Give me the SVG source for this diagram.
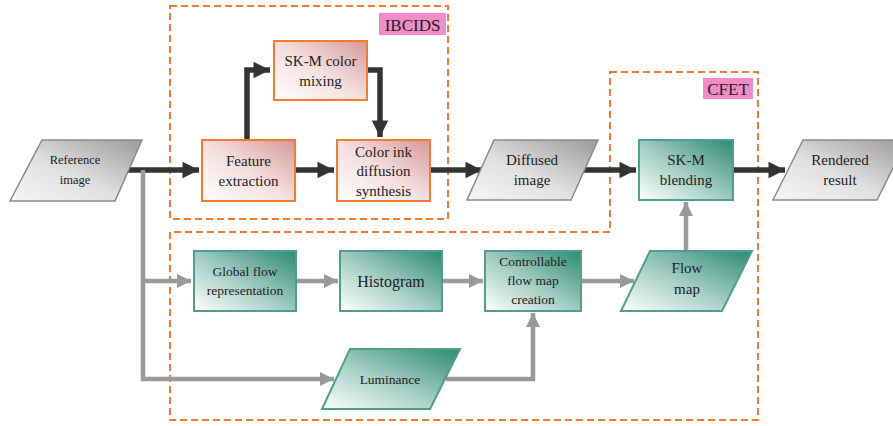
<svg xmlns="http://www.w3.org/2000/svg" width="893" height="426" viewBox="0 0 893 426">
<defs>
<linearGradient id="gOr" x1="1" y1="0" x2="0" y2="1">
<stop offset="0" stop-color="#d69898"/><stop offset="0.5" stop-color="#f3dede"/><stop offset="1" stop-color="#ffffff"/>
</linearGradient>
<linearGradient id="gTe" x1="1" y1="0" x2="0" y2="1">
<stop offset="0" stop-color="#2c8a70"/><stop offset="0.55" stop-color="#a8d0c5"/><stop offset="1" stop-color="#ffffff"/>
</linearGradient>
<linearGradient id="gGr" x1="1" y1="0" x2="0" y2="1">
<stop offset="0" stop-color="#9a9a9a"/><stop offset="0.55" stop-color="#e0e0e0"/><stop offset="1" stop-color="#f6f6f6"/>
</linearGradient>
<marker id="aD" viewBox="0 0 10 10" refX="10" refY="5" markerWidth="3.6" markerHeight="3" orient="auto" markerUnits="strokeWidth">
<path d="M0,0 L10,5 L0,10 Z" fill="#333"/>
</marker>
<marker id="aG" viewBox="0 0 10 10" refX="10" refY="5" markerWidth="3.2" markerHeight="3.4" orient="auto" markerUnits="strokeWidth">
<path d="M0,0 L10,5 L0,10 Z" fill="#999"/>
</marker>
</defs>
<style>
.or{fill:url(#gOr);stroke:#f47a30;stroke-width:2}
.te{fill:url(#gTe);stroke:#4fa08a;stroke-width:2}
.gr{fill:url(#gGr);stroke:#8a8a8a;stroke-width:1.5}
.grp{fill:none;stroke:#f47a30;stroke-width:2;stroke-dasharray:7,4}
text{font-family:"Liberation Serif","DejaVu Serif","Noto Serif",serif;fill:#222;text-anchor:middle}
.t14{font-size:15px}
.t13{font-size:13.5px}
.t12{font-size:12.5px}
.dk{fill:none;stroke:#333;stroke-width:5.5}
.gy{fill:none;stroke:#999;stroke-width:4.5}
.lab{font-size:17px}
</style>

<g id="groups">
<rect class="grp" x="170" y="6" width="278" height="213"/>
<path class="grp" d="M610,72 H758 V420 H170 V232 H610 Z"/>
<rect x="379" y="13" width="67" height="22" fill="#f08cc8"/>
<text class="lab" x="412.5" y="31">IBCIDS</text>
<rect x="703" y="78" width="50" height="21" fill="#f08cc8"/>
<text class="lab" x="728" y="95">CFET</text>
</g>

<g id="connectors">
<path class="dk" d="M126,170 H199" marker-end="url(#aD)"/>
<path class="dk" d="M247,140 V70 H270" marker-end="url(#aD)"/>
<path class="dk" d="M367,70 H380 V137" marker-end="url(#aD)"/>
<path class="dk" d="M295,170 H334" marker-end="url(#aD)"/>
<path class="dk" d="M430,170 H482" marker-end="url(#aD)"/>
<path class="dk" d="M583,170 H636" marker-end="url(#aD)"/>
<path class="dk" d="M733,170 H785" marker-end="url(#aD)"/>
<path class="gy" d="M143,170 V379 H334" marker-end="url(#aG)"/>
<path class="gy" d="M143,281 H191" marker-end="url(#aG)"/>
<path class="gy" d="M296,281 H338" marker-end="url(#aG)"/>
<path class="gy" d="M442,281 H483" marker-end="url(#aG)"/>
<path class="gy" d="M581,281 H634" marker-end="url(#aG)"/>
<path class="gy" d="M446,379 H533 V313" marker-end="url(#aG)"/>
<path class="gy" d="M686,251 V202" marker-end="url(#aG)"/>
</g>

<g id="reference-image">
<polygon class="gr" points="42,140 142,140 115,201 10,201"/>
<text class="t12" x="75" y="164">Reference</text>
<text class="t12" x="75" y="184">image</text>
</g>

<g id="feature-extraction">
<rect class="or" x="202" y="140" width="93" height="61"/>
<text class="t14" x="248.5" y="166">Feature</text>
<text class="t14" x="248.5" y="186">extraction</text>
</g>

<g id="skm-color-mixing">
<rect class="or" x="274" y="41" width="93" height="59"/>
<text class="t14" x="320.5" y="66">SK-M color</text>
<text class="t14" x="320.5" y="86">mixing</text>
</g>

<g id="color-ink-diffusion">
<rect class="or" x="337" y="140" width="93" height="61"/>
<text class="t14" x="383.5" y="157">Color ink</text>
<text class="t14" x="383.5" y="176">diffusion</text>
<text class="t14" x="383.5" y="196">synthesis</text>
</g>

<g id="diffused-image">
<polygon class="gr" points="494,140 598,140 571,200 467,200"/>
<text class="t14" x="532" y="165">Diffused</text>
<text class="t14" x="532" y="185">image</text>
</g>

<g id="skm-blending">
<rect class="te" x="639" y="140" width="94" height="60"/>
<text class="t14" x="686" y="165">SK-M</text>
<text class="t14" x="686" y="185">blending</text>
</g>

<g id="rendered-result">
<polygon class="gr" points="803,140 907,140 877,200 773,200"/>
<text class="t14" x="840" y="165">Rendered</text>
<text class="t14" x="840" y="185">result</text>
</g>

<g id="global-flow">
<rect class="te" x="194" y="251" width="102" height="60"/>
<text class="t13" x="245" y="276">Global flow</text>
<text class="t13" x="245" y="295">representation</text>
</g>

<g id="histogram">
<rect class="te" x="340" y="251" width="102" height="60"/>
<text x="391" y="287" style="font-size:16px">Histogram</text>
</g>

<g id="controllable-flow-map">
<rect class="te" x="485" y="251" width="96" height="60"/>
<text class="t13" x="533" y="266">Controllable</text>
<text class="t13" x="533" y="285">flow map</text>
<text class="t13" x="533" y="304">creation</text>
</g>

<g id="flow-map">
<polygon class="te" points="650,251 752,251 722,311 621,311"/>
<text class="t14" x="687" y="273">Flow</text>
<text class="t14" x="687" y="294">map</text>
</g>

<g id="luminance">
<polygon class="te" points="350,349 460,349 430,409 322,409"/>
<text class="t13" x="390" y="384">Luminance</text>
</g>
</svg>
